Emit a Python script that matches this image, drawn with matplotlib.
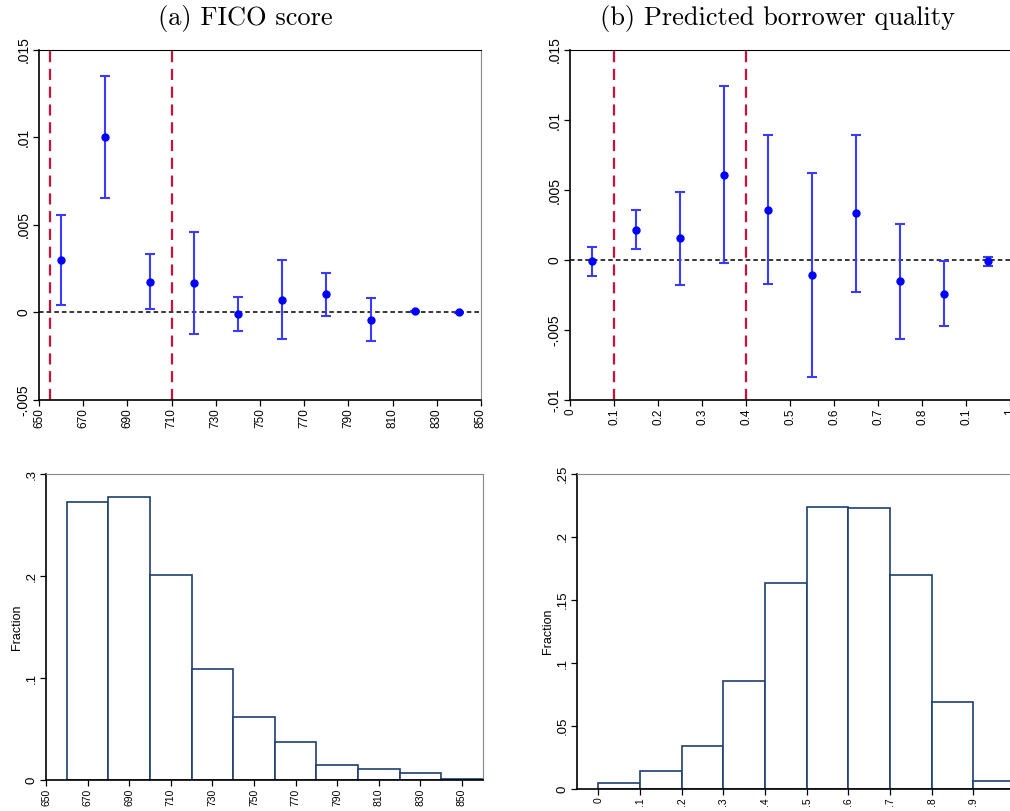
import numpy as np
import matplotlib
matplotlib.use("Agg")
import matplotlib.pyplot as plt

plt.rcParams["font.family"] = ["Liberation Sans", "DejaVu Sans"]

# (a) FICO score: coefficients with 95% CIs
fico_x = [660, 680, 700, 720, 740, 760, 780, 800, 820, 840]
fico_coef = [0.0030, 0.0100, 0.00176, 0.00169, -0.00009, 0.00073, 0.00104, -0.00041, 0.00007, 0.00001]
fico_lo = [0.00041, 0.00652, 0.0002, -0.00123, -0.00104, -0.00151, -0.00018, -0.00165, 0.00003, -0.00002]
fico_hi = [0.00555, 0.01353, 0.00332, 0.00462, 0.00087, 0.00298, 0.00226, 0.00085, 0.00011, 0.00004]
fico_cut = [655, 710]

# (b) predicted borrower quality
qual_x = [0.05, 0.15, 0.25, 0.35, 0.45, 0.55, 0.65, 0.75, 0.85, 0.95]
qual_coef = [-0.00007, 0.00214, 0.00155, 0.0061, 0.0036, -0.0011, 0.00333, -0.00152, -0.0024, -0.0001]
qual_lo = [-0.00112, 0.00076, -0.00176, -0.00019, -0.00174, -0.00836, -0.00226, -0.00562, -0.00471, -0.00045]
qual_hi = [0.0009, 0.00355, 0.00486, 0.0124, 0.00895, 0.00619, 0.00895, 0.0026, -0.0001, 0.00024]
qual_cut = [0.1, 0.4]

# histograms
fico_edges = [660, 680, 700, 720, 740, 760, 780, 800, 820, 840, 860]
fico_frac = [0.2729, 0.2772, 0.2011, 0.1094, 0.0617, 0.0379, 0.0147, 0.0111, 0.0075, 0.0013]
qual_edges = [0.0, 0.1, 0.2, 0.3, 0.4, 0.5, 0.6, 0.7, 0.8, 0.9, 1.0]
qual_frac = [0.0045, 0.014, 0.0341, 0.086, 0.1635, 0.2238, 0.2233, 0.1698, 0.069, 0.0066]

W, H = 1010, 811
fig = plt.figure(figsize=(W / 100, H / 100), dpi=100)


def box(l, t, r, b):
    return [l / W, 1 - b / H, (r - l) / W, (b - t) / H]


def style(ax, gray_top=True):
    for s in ["left", "bottom"]:
        ax.spines[s].set_color("black")
        ax.spines[s].set_linewidth(1.2)
    ax.spines["right"].set_color("#888888")
    ax.spines["top"].set_color("#888888" if gray_top else "black")
    ax.tick_params(direction="out", length=4, width=0.9, pad=2)


def coef_plot(ax, x, coef, lo, hi, cuts):
    ax.axhline(0, color="black", lw=1.1, ls=(0, (3, 2)), zorder=1)
    for c in cuts:
        ax.axvline(c, color="#cc1138", lw=1.6, ls=(0, (5, 3)), zorder=1)
    coef = np.array(coef)
    err = [coef - np.array(lo), np.array(hi) - coef]
    ax.errorbar(x, coef, yerr=err, fmt="none", ecolor="#3b3bff", elinewidth=1.5,
                capsize=3.5, capthick=1.5, zorder=2)
    ax.plot(x, coef, "o", color="blue", ms=5, zorder=3)


# top left
ax1 = fig.add_axes(box(39, 50, 481, 400))
coef_plot(ax1, fico_x, fico_coef, fico_lo, fico_hi, fico_cut)
ax1.set_xlim(650, 850)
ax1.set_ylim(-0.005, 0.015)
xt = list(range(650, 851, 20))
ax1.set_xticks(xt)
ax1.set_xticklabels([str(v) for v in xt], rotation=90, fontsize=8.5)
ax1.set_yticks([-0.005, 0, 0.005, 0.01, 0.015])
ax1.set_yticklabels(["-.005", "0", ".005", ".01", ".015"], rotation=90, va="center", fontsize=10)
style(ax1, gray_top=False)

# top right
ax2 = fig.add_axes(box(570, 50, 570 + 440 * 1.05, 400))
coef_plot(ax2, qual_x, qual_coef, qual_lo, qual_hi, qual_cut)
ax2.set_xlim(0, 1.05)
ax2.set_ylim(-0.01, 0.015)
ax2.set_xticks([0, 0.1, 0.2, 0.3, 0.4, 0.5, 0.6, 0.7, 0.8, 0.9, 1.0])
ax2.set_xticklabels(["0", "0.1", "0.2", "0.3", "0.4", "0.5", "0.6", "0.7", "0.8", "0.1", "1"],
                    rotation=90, fontsize=8.5)
ax2.set_yticks([-0.01, -0.005, 0, 0.005, 0.01, 0.015])
ax2.set_yticklabels(["-.01", "-.005", "0", ".005", ".01", ".015"], rotation=90, va="center", fontsize=10)
style(ax2, gray_top=False)

# bottom left
ax3 = fig.add_axes(box(46, 474, 482.7, 780.3))
ax3.bar(fico_edges[:-1], fico_frac, width=20, align="edge", color="white",
        edgecolor="#1f3f6e", linewidth=1.2)
ax3.set_xlim(650, 860)
ax3.set_ylim(0, 0.3)
ax3.set_xticks(xt)
ax3.set_xticklabels([str(v) for v in xt], rotation=90, fontsize=7.5)
ax3.set_yticks([0, 0.1, 0.2, 0.3])
ax3.set_yticklabels(["0", ".1", ".2", ".3"], rotation=90, va="center", fontsize=9.5)
ax3.set_ylabel("Fraction", fontsize=9, labelpad=2)
style(ax3)

# bottom right
ax4 = fig.add_axes(box(577.3, 474, 577.3 + 417 * 1.15, 789))
ax4.bar(qual_edges[:-1], qual_frac, width=0.1, align="edge", color="white",
        edgecolor="#1f3f6e", linewidth=1.2)
ax4.set_xlim(-0.05, 1.1)
ax4.set_ylim(0, 0.25)
ax4.set_xticks(qual_edges)
ax4.set_xticklabels(["0", ".1", ".2", ".3", ".4", ".5", ".6", ".7", ".8", ".9", "1"],
                    rotation=90, fontsize=7.5)
ax4.set_yticks([0, 0.05, 0.1, 0.15, 0.2, 0.25])
ax4.set_yticklabels(["0", ".05", ".1", ".15", ".2", ".25"], rotation=90, va="center", fontsize=9.5)
ax4.set_ylabel("Fraction", fontsize=9, labelpad=2)
style(ax4)

fig.text(245 / W, 1 - 19 / H, "(a) FICO score", family="cmr10", fontsize=19, ha="center", va="center")
fig.text(777 / W, 1 - 19 / H, "(b) Predicted borrower quality", family="cmr10", fontsize=19,
         ha="center", va="center")

fig.savefig("out.png", dpi=100)
